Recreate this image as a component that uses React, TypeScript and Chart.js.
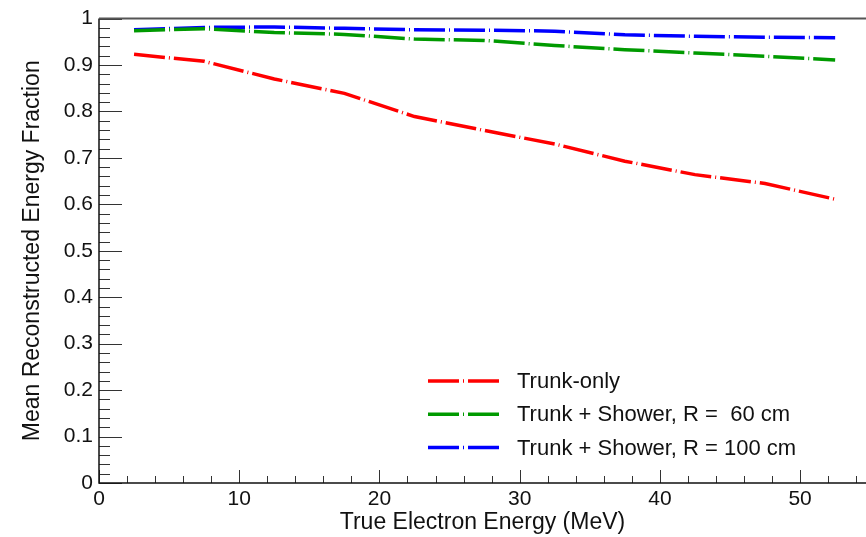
import React, { useEffect, useRef } from "react";
import { Chart, registerables } from "chart.js";

Chart.register(...registerables);

// ---- data ----
const energies = [2.5, 7.5, 12.5, 17.5, 22.5, 27.5, 32.5, 37.5, 42.5, 47.5, 52.5];
const trunkOnly = [0.923, 0.908, 0.87, 0.839, 0.789, 0.759, 0.73, 0.693, 0.664, 0.645, 0.611];
const shower60 = [0.974, 0.978, 0.97, 0.966, 0.956, 0.953, 0.942, 0.933, 0.926, 0.919, 0.911];
const shower100 = [0.976, 0.981, 0.982, 0.979, 0.976, 0.975, 0.973, 0.965, 0.962, 0.96, 0.959];
const seriesLabels = ["Trunk-only", "Trunk + Shower, R =  60 cm", "Trunk + Shower, R = 100 cm"];
const seriesColors = ["#ff0000", "#009a00", "#0000ff"];
const xTickLabels = ["0", "10", "20", "30", "40", "50"];
const yTickLabels = ["0", "0.1", "0.2", "0.3", "0.4", "0.5", "0.6", "0.7", "0.8", "0.9", "1"];
const xTitle = "True Electron Energy (MeV)";
const yTitle = "Mean Reconstructed Energy Fraction";

const FONT = "'Liberation Sans', Arial, Helvetica, sans-serif";
const DASH = [31, 4, 1, 4];

const rootStyle = {
  id: "rootStyle",
  afterDatasetsDraw(chart: any) {
    const { ctx, chartArea: a, scales } = chart;
    const x = scales.x;
    const y = scales.y;
    ctx.save();
    // inward ticks
    ctx.strokeStyle = "#333";
    ctx.lineWidth = 1;
    ctx.beginPath();
    for (let i = 0; i <= 30; i++) {
      const v = i * 2;
      if (v > x.max) break;
      const px = Math.round(x.getPixelForValue(v)) + 0.5;
      const len = v % 10 === 0 ? 13 : 7;
      ctx.moveTo(px, a.bottom);
      ctx.lineTo(px, a.bottom - len);
    }
    for (let i = 0; i <= 50; i++) {
      const v = i / 50;
      const py = Math.round(y.getPixelForValue(v)) + 0.5;
      const len = i % 5 === 0 ? 23 : 11;
      ctx.moveTo(a.left, py);
      ctx.lineTo(a.left + len, py);
    }
    ctx.stroke();
    // frame
    ctx.strokeStyle = "#111";
    ctx.lineWidth = 1.5;
    ctx.beginPath();
    ctx.moveTo(a.left, a.top);
    ctx.lineTo(a.left, a.bottom);
    ctx.lineTo(a.right, a.bottom);
    ctx.stroke();
    ctx.strokeStyle = "#555";
    ctx.lineWidth = 2;
    ctx.beginPath();
    ctx.moveTo(a.left, a.top);
    ctx.lineTo(a.right, a.top);
    ctx.stroke();
    // legend
    const ds = chart.data.datasets;
    ctx.font = `22px ${FONT}`;
    ctx.textBaseline = "middle";
    ctx.textAlign = "left";
    for (let i = 0; i < ds.length; i++) {
      const ly = 381 + i * 33.3;
      ctx.strokeStyle = ds[i].borderColor;
      ctx.lineWidth = 3.5;
      ctx.setLineDash(DASH);
      ctx.beginPath();
      ctx.moveTo(428, ly);
      ctx.lineTo(500, ly);
      ctx.stroke();
      ctx.setLineDash([]);
      ctx.fillStyle = "#111";
      ctx.fillText(ds[i].label, 517, ly + 1);
    }
    ctx.restore();
  },
};

export default function App() {
  const ref = useRef<HTMLCanvasElement | null>(null);
  useEffect(() => {
    document.body.style.margin = "0";
    const canvas = ref.current;
    if (!canvas) return;
    const series = [trunkOnly, shower60, shower100];
    const chart = new Chart(canvas, {
      type: "line",
      data: {
        datasets: series.map((s, i) => ({
          label: seriesLabels[i],
          data: energies.map((e, j) => ({ x: e, y: s[j] })),
          borderColor: seriesColors[i],
          backgroundColor: seriesColors[i],
          borderWidth: 3.5,
          borderDash: DASH,
          pointRadius: 0,
          tension: 0,
          fill: false,
        })),
      },
      options: {
        animation: false,
        responsive: false,
        devicePixelRatio: 1,
        layout: { padding: { top: 15, right: 0, left: 0, bottom: 0 } },
        plugins: { legend: { display: false }, tooltip: { enabled: false } },
        scales: {
          x: {
            type: "linear",
            min: 0,
            max: 54.7,
            grid: { display: false, drawTicks: false },
            border: { display: false },
            ticks: {
              stepSize: 10,
              includeBounds: false,
              maxRotation: 0,
              autoSkip: false,
              padding: 4,
              color: "#111",
              font: { family: FONT, size: 21 },
              callback: (v: any) => {
                const k = Math.round(Number(v) / 10);
                return xTickLabels[k] ?? "";
              },
            },
            title: {
              display: true,
              text: xTitle,
              color: "#111",
              font: { family: FONT, size: 23 },
              padding: { top: 1, bottom: 1 },
            },
            afterFit: (s: any) => {
              s.height = 54;
            },
          },
          y: {
            type: "linear",
            min: 0,
            max: 1,
            grid: { display: false, drawTicks: false },
            border: { display: false },
            ticks: {
              stepSize: 0.1,
              autoSkip: false,
              padding: 6,
              color: "#111",
              font: { family: FONT, size: 21 },
              callback: (v: any) => {
                const k = Math.round(Number(v) * 10);
                return yTickLabels[k] ?? "";
              },
            },
            title: {
              display: true,
              text: yTitle,
              color: "#111",
              font: { family: FONT, size: 23 },
              padding: { top: 19, bottom: 19 },
            },
            afterFit: (s: any) => {
              s.width = 99;
            },
          },
        },
      },
      plugins: [rootStyle],
    });
    return () => chart.destroy();
  }, []);
  return (
    <div style={{ position: "fixed", left: 0, top: 0, width: 866, height: 537, background: "#fff" }}>
      <canvas ref={ref} width={866} height={537} />
    </div>
  );
}
